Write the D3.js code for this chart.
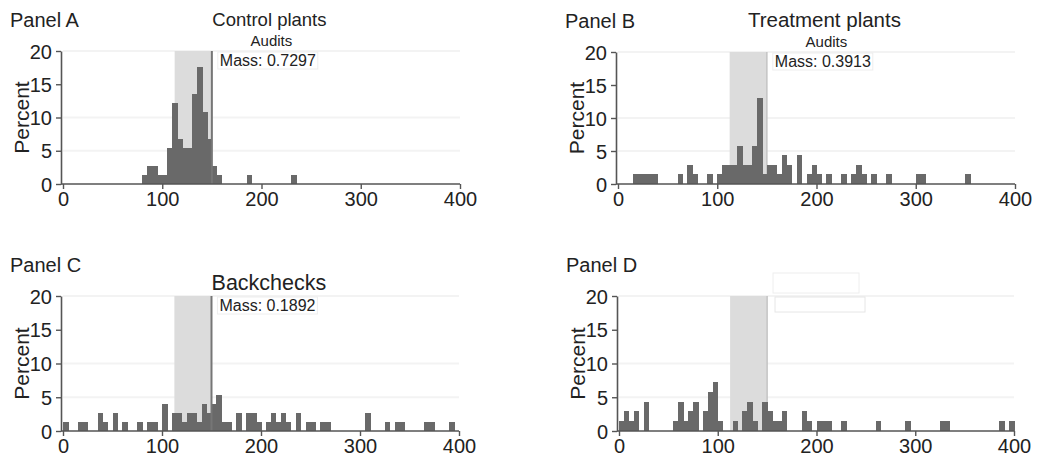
<!DOCTYPE html>
<html>
<head>
<meta charset="utf-8">
<script src="https://cdn.jsdelivr.net/npm/d3@7"></script>
<style>
  body { margin: 0; background: #fff; }
  svg text { font-family: "Liberation Sans", Arial, Helvetica, sans-serif; fill: #222; }
</style>
</head>
<body>
<div id="chart"></div>
<script>
// tick labels shared by all panels
const xTicks = [0, 100, 200, 300, 400];
const yTicks = [0, 5, 10, 15, 20];
const binWidth = 5;
const shadeRange = [112.5, 150];

// Panel A - control plants, audits (bin start, percent)
const binsA = [80, 85, 90, 95, 100, 105, 110, 115, 120, 125, 130, 135, 140, 145, 150, 155, 185, 230];
const pctA  = [1.35, 2.7, 2.7, 1.35, 1.35, 5.4, 12.2, 6.8, 5.4, 5.4, 13.5, 17.6, 10.8, 6.8, 2.7, 1.35, 1.35, 1.35];

// Panel B - treatment plants, audits
const binsB = [15, 20, 25, 30, 35, 60, 70, 75, 90, 100, 105, 110, 115, 120, 125, 130, 135, 140, 145,
               150, 155, 160, 165, 170, 180, 190, 195, 200, 210, 225, 235, 240, 245, 255, 270, 300, 305, 350];
const pctB  = [1.45, 1.45, 1.45, 1.45, 1.45, 1.45, 2.9, 1.45, 1.45, 1.45, 2.9, 2.9, 2.9, 5.8, 2.9, 2.9, 5.8, 13.0, 1.45,
               2.9, 2.9, 1.45, 4.35, 2.9, 4.35, 1.45, 2.9, 1.45, 1.45, 1.45, 1.45, 2.9, 1.45, 1.45, 1.45, 1.45, 1.45, 1.45];

// Panel C - control plants, backchecks
const binsC = [0, 15, 20, 35, 40, 50, 60, 75, 85, 90, 100, 110, 115, 120, 125, 130, 135, 140, 145, 150, 155, 160,
               165, 175, 185, 190, 195, 205, 210, 215, 220, 225, 235, 245, 250, 260, 265, 305, 325, 335, 340, 365, 370, 390];
const pctC  = [1.35, 1.35, 1.35, 2.7, 1.35, 2.7, 1.35, 1.35, 1.35, 1.35, 4.05, 2.7, 2.7, 1.35, 2.7, 2.7, 1.35, 4.05, 2.7, 4.05, 5.4, 1.35,
               1.35, 2.7, 2.7, 2.7, 1.35, 1.35, 2.7, 1.35, 2.7, 1.35, 2.7, 1.35, 1.35, 1.35, 1.35, 2.7, 1.35, 1.35, 1.35, 1.35, 1.35, 1.35];

// Panel D - treatment plants, backchecks
const binsD = [0, 5, 10, 15, 25, 55, 60, 65, 70, 75, 85, 90, 95, 100, 115, 125, 130, 135, 145, 150, 155, 160,
               165, 185, 190, 200, 205, 210, 225, 260, 290, 325, 330, 385, 395];
const pctD  = [1.45, 2.9, 1.45, 2.9, 4.35, 1.45, 4.35, 1.45, 2.9, 4.35, 2.9, 5.8, 7.25, 1.45, 1.45, 2.9, 4.35, 1.45, 4.35, 2.9, 1.45, 1.45,
               2.9, 2.9, 1.45, 1.45, 1.45, 1.45, 1.45, 1.45, 1.45, 1.45, 1.45, 1.45, 1.45];

const svg = d3.select("#chart").append("svg")
    .attr("width", 1037)
    .attr("height", 457);

const panels = [
  {name: "Panel A", bins: binsA, pct: pctA, x0: 63, x1: 460, top: 51, bot: 184,
   title: "Control plants", titleSize: 18.5, titleDy: -25, sub: "Audits", mass: "Mass: 0.7297", line: true},
  {name: "Panel B", bins: binsB, pct: pctB, x0: 618, x1: 1015, top: 52, bot: 184,
   title: "Treatment plants", titleSize: 20.5, titleDy: -25, sub: "Audits", mass: "Mass: 0.3913", line: false},
  {name: "Panel C", bins: binsC, pct: pctC, x0: 63, x1: 459, top: 296, bot: 431,
   title: "Backchecks", titleSize: 21.5, titleDy: -6, sub: null, mass: "Mass: 0.1892", line: true},
  {name: "Panel D", bins: binsD, pct: pctD, x0: 619, x1: 1014, top: 296, bot: 431,
   title: null, sub: null, mass: null, line: false, blanks: true}
];

panels.forEach(p => {
  const x = d3.scaleLinear().domain([0, 400]).range([p.x0, p.x1]);
  const y = d3.scaleLinear().domain([0, 20]).range([p.bot, p.top]);
  const g = svg.append("g");

  // faint gridlines
  g.append("g").selectAll("line")
    .data([5, 10, 20])
    .join("line")
      .attr("x1", x(0)).attr("x2", x(400))
      .attr("y1", d => y(d)).attr("y2", d => y(d))
      .attr("stroke", "#f3f3f3")
      .attr("stroke-width", 2);

  // shaded window
  g.append("rect")
    .attr("x", x(shadeRange[0]))
    .attr("y", y(20))
    .attr("width", x(shadeRange[1]) - x(shadeRange[0]))
    .attr("height", y(0) - y(20))
    .attr("fill", "#dcdcdc");
  if (!p.line) {
    g.append("line")
      .attr("x1", x(shadeRange[1])).attr("x2", x(shadeRange[1]))
      .attr("y1", y(20)).attr("y2", y(0))
      .attr("stroke", "#c4c4c4").attr("stroke-width", 1.5);
  }

  // bars
  g.append("g")
    .attr("shape-rendering", "crispEdges")
    .selectAll("rect")
    .data(p.bins.map((b, i) => ({start: b, pct: p.pct[i]})))
    .join("rect")
      .attr("x", d => x(d.start))
      .attr("width", d => x(d.start + binWidth) - x(d.start) + 0.6)
      .attr("y", d => y(d.pct))
      .attr("height", d => y(0) - y(d.pct))
      .attr("fill", "#696969");

  if (p.line) {
    g.append("line")
      .attr("x1", x(150)).attr("x2", x(150))
      .attr("y1", y(20)).attr("y2", y(0))
      .attr("stroke", "#767676").attr("stroke-width", 2);
  }

  // axes
  const xAxis = g.append("g")
    .attr("transform", `translate(0,${y(0)})`)
    .call(d3.axisBottom(x).tickValues(xTicks).tickSize(5).tickSizeOuter(0).tickPadding(3));
  const yAxis = g.append("g")
    .attr("transform", `translate(${x(0) - 2},0)`)
    .call(d3.axisLeft(y).tickValues(yTicks).tickSize(5).tickSizeOuter(0).tickPadding(4));
  [xAxis, yAxis].forEach(a => {
    a.select(".domain").attr("stroke", "#555").attr("stroke-width", 1.6);
    a.selectAll(".tick line").attr("stroke", "#555").attr("stroke-width", 1.4);
    a.selectAll(".tick text")
      .style("font-size", "20px")
      .style("font-family", "'Liberation Sans', Arial, sans-serif")
      .attr("fill", "#222");
  });
  yAxis.selectAll(".tick text").attr("dy", "0.36em");
  xAxis.select(".domain").attr("d", `M${x(0) - 2},0H${x(400)}`);

  // y label
  g.append("text")
    .attr("transform", `translate(${p.x0 - 34},${(p.top + p.bot) / 2}) rotate(-90)`)
    .attr("text-anchor", "middle")
    .style("font-size", "21px")
    .text("Percent");

  // panel name
  g.append("text")
    .attr("x", p.x0 - 53)
    .attr("y", p.top - 24)
    .style("font-size", "20px")
    .text(p.name);

  if (p.title) {
    g.append("text")
      .attr("x", x(208))
      .attr("y", p.top + p.titleDy)
      .attr("text-anchor", "middle")
      .style("font-size", p.titleSize + "px")
      .text(p.title);
  }
  if (p.sub) {
    g.append("text")
      .attr("x", x(210))
      .attr("y", p.top - 5)
      .attr("text-anchor", "middle")
      .style("font-size", "15px")
      .text(p.sub);
  }
  if (p.mass) {
    g.append("rect")
      .attr("x", x(156))
      .attr("y", p.top + 1)
      .attr("width", 100)
      .attr("height", 17)
      .attr("fill", "#fff")
      .attr("stroke", "#eeeeee");
    g.append("text")
      .attr("x", x(158))
      .attr("y", p.top + 14.5)
      .style("font-size", "16px")
      .text(p.mass);
  }
  if (p.blanks) {
    g.append("rect")
      .attr("x", x(156)).attr("y", p.top - 23)
      .attr("width", 86).attr("height", 20)
      .attr("fill", "#fff").attr("stroke", "#eeeeee");
    g.append("rect")
      .attr("x", x(158)).attr("y", p.top + 1)
      .attr("width", 90).attr("height", 15)
      .attr("fill", "#fff").attr("stroke", "#e6e6e6");
  }
});
</script>
</body>
</html>
